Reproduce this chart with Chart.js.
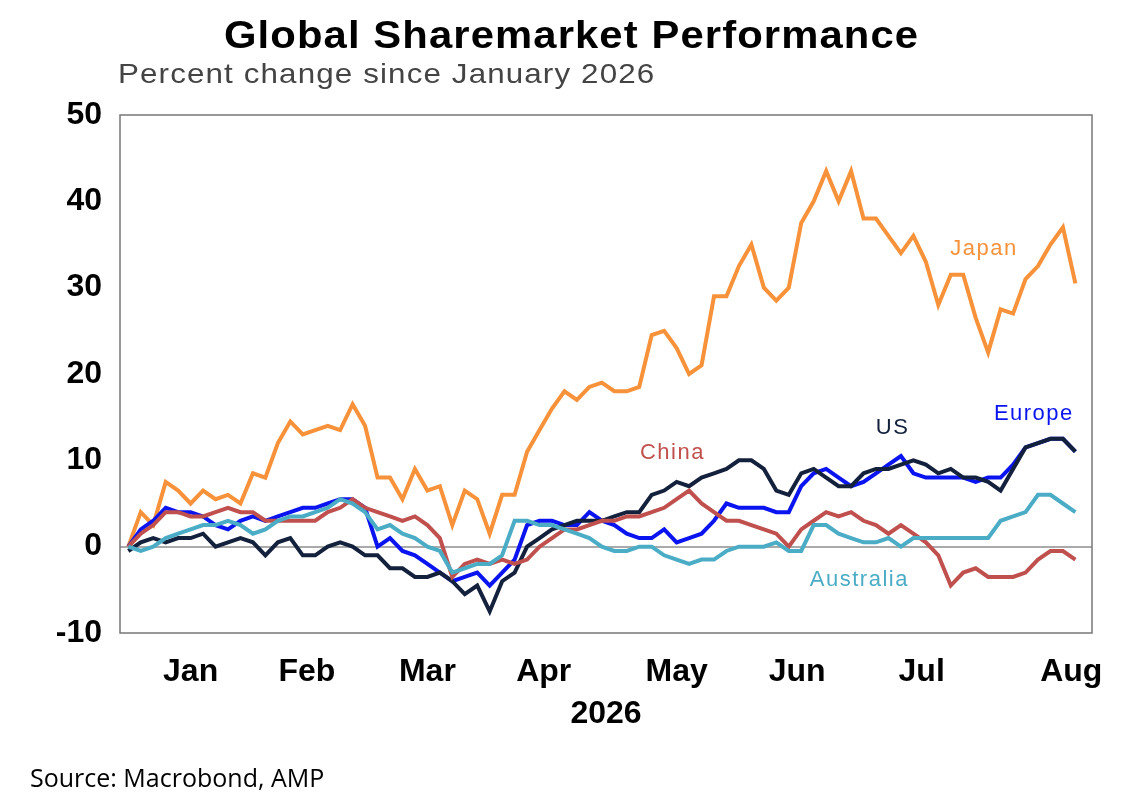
<!DOCTYPE html>
<html>
<head>
<meta charset="utf-8">
<script src="https://cdn.jsdelivr.net/npm/chart.js@4"></script>
<style>
  body { margin: 0; background: #fff; font-family: "Liberation Sans", Arial, sans-serif; }
  #wrap { position: relative; width: 1148px; height: 806px; }
  canvas { position: absolute; left: 0; top: 0; }
  .title { position: absolute; top: 14px; left: 224px; font-weight: bold; font-size: 38px; color: #000; letter-spacing: 1px; white-space: nowrap; transform: scaleX(1.1); transform-origin: left top; }
  .sub { position: absolute; top: 58px; left: 118px; font-size: 28px; color: #444; letter-spacing: 1px; white-space: nowrap; transform: scaleX(1.12); transform-origin: left top; }
  .src { position: absolute; top: 760px; left: 30px; font-size: 25px; color: #000; font-family: "Open Sans", sans-serif; }
</style>
</head>
<body>
<div id="wrap">
  <canvas id="c" width="1148" height="806"></canvas>
  <div class="title">Global Sharemarket Performance</div>
  <div class="sub">Percent change since January 2026</div>
  <div class="src">Source: Macrobond, AMP</div>
</div>
<script>
// one sample every 3 days, starting 1 Jan 2026 (day 0)
const step = 3;
const months = ['Jan', 'Feb', 'Mar', 'Apr', 'May', 'Jun', 'Jul', 'Aug'];
const monthTickDays = [15, 43, 72, 100, 132, 161, 191, 227];

const japan = [0, 4, 2.5, 7.5, 6.5, 5, 6.5, 5.5, 6, 5, 8.5, 8, 12, 14.5, 13, 13.5, 14, 13.5, 16.5, 14,
  8, 8, 5.5, 9, 6.5, 7, 2.5, 6.5, 5.5, 1.5, 6, 6, 11, 13.5, 16, 18, 17, 18.5, 19, 18,
  18, 18.5, 24.5, 25, 23, 20, 21, 29, 29, 32.5, 35, 30, 28.5, 30, 37.5, 40, 43.5, 40, 43.5, 38,
  38, 36, 34, 36, 33, 28, 31.5, 31.5, 26.5, 22.5, 27.5, 27, 31, 32.5, 35, 37, 30.5];
const us = [-0.5, 0.5, 1, 0.5, 1, 1, 1.5, 0, 0.5, 1, 0.5, -1, 0.5, 1, -1, -1, 0, 0.5, 0, -1,
  -1, -2.5, -2.5, -3.5, -3.5, -3, -4, -5.5, -4.5, -7.5, -4, -3, 0, 1, 2, 2.5, 3, 3, 3, 3.5,
  4, 4, 6, 6.5, 7.5, 7, 8, 8.5, 9, 10, 10, 9, 6.5, 6, 8.5, 9, 8, 7, 7, 8.5,
  9, 9, 9.5, 10, 9.5, 8.5, 9, 8, 8, 7.5, 6.5, 9, 11.5, 12, 12.5, 12.5, 11];
const europe = [0, 2, 3, 4.5, 4, 4, 3.5, 2.5, 2, 3, 3.5, 3, 3.5, 4, 4.5, 4.5, 5, 5.5, 5.5, 4.5,
  0, 1, -0.5, -1, -2, -3, -4, -3.5, -3, -4.5, -3, -1.5, 2.5, 3, 3, 2.5, 2.5, 4, 3, 2.5,
  1.5, 1, 1, 2, 0.5, 1, 1.5, 3, 5, 4.5, 4.5, 4.5, 4, 4, 7, 8.5, 9, 8, 7, 7.5,
  8.5, 9.5, 10.5, 8.5, 8, 8, 8, 8, 7.5, 8, 8, 9.5, 11.5, 12, 12.5, 12.5, 11];
const china = [0, 1.5, 2.5, 4, 4, 3.5, 3.5, 4, 4.5, 4, 4, 3, 3, 3, 3, 3, 4, 4.5, 5.5, 4.5,
  4, 3.5, 3, 3.5, 2.5, 1, -3.5, -2, -1.5, -2, -1.5, -2, -1.5, 0, 1, 2, 2, 2.5, 3, 3,
  3.5, 3.5, 4, 4.5, 5.5, 6.5, 5, 4, 3, 3, 2.5, 2, 1.5, 0, 2, 3, 4, 3.5, 4, 3,
  2.5, 1.5, 2.5, 1.5, 0.5, -1, -4.5, -3, -2.5, -3.5, -3.5, -3.5, -3, -1.5, -0.5, -0.5, -1.5];
const australia = [0, -0.5, 0, 1, 1.5, 2, 2.5, 2.5, 3, 2.5, 1.5, 2, 3, 3.5, 3.5, 4, 4.5, 5.5, 5, 4,
  2, 2.5, 1.5, 1, 0, -0.5, -3, -2.5, -2, -2, -1, 3, 3, 2.5, 2.5, 2, 1.5, 1, 0, -0.5,
  -0.5, 0, 0, -1, -1.5, -2, -1.5, -1.5, -0.5, 0, 0, 0, 0.5, -0.5, -0.5, 2.5, 2.5, 1.5, 1, 0.5,
  0.5, 1, 0, 1, 1, 1, 1, 1, 1, 1, 3, 3.5, 4, 6, 6, 5, 4];
const yTicks = [50, 40, 30, 20, 10, 0, -10];

// series labels placed on the chart: [text, day, value, colour]
const seriesLabels = [
  ['Japan', 206, 34.5, '#f7923a'],
  ['US', 184, 13.7, '#14213d'],
  ['Europe', 218, 15.4, '#0a14f0'],
  ['China', 131, 10.9, '#c0504d'],
  ['Australia', 176, -3.9, '#4bacc6']
];

const tickFont = { size: 32, weight: 'bold', family: '"Liberation Sans", Arial' };

function toPoints(arr) {
  return arr.map((v, i) => ({ x: i * step, y: v }));
}

function ds(label, arr, color) {
  return { label, data: toPoints(arr), borderColor: color, borderWidth: 4, pointRadius: 0, tension: 0, fill: false };
}

const labelPlugin = {
  id: 'seriesLabels',
  afterDatasetsDraw(chart) {
    const ctx = chart.ctx;
    ctx.save();
    ctx.font = '22px "Liberation Sans", Arial, sans-serif';
    ctx.letterSpacing = '1.5px';
    ctx.textAlign = 'center';
    ctx.textBaseline = 'middle';
    seriesLabels.forEach(([t, d, v, c]) => {
      ctx.fillStyle = c;
      ctx.fillText(t, chart.scales.x.getPixelForValue(d), chart.scales.y.getPixelForValue(v));
    });
    ctx.restore();
  }
};

const frame = {
  id: 'frame',
  afterDraw(chart) {
    const a = chart.chartArea, ctx = chart.ctx;
    ctx.save();
    ctx.strokeStyle = '#777';
    ctx.lineWidth = 1.5;
    ctx.strokeRect(a.left, a.top, a.right - a.left, a.bottom - a.top);
    ctx.restore();
  }
};

new Chart(document.getElementById('c'), {
  type: 'line',
  data: {
    datasets: [
      ds('Australia', australia, '#4bacc6'),
      ds('China', china, '#c0504d'),
      ds('US', us, '#14213d'),
      ds('Europe', europe, '#0a14f0'),
      ds('Japan', japan, '#f7923a')
    ]
  },
  options: {
    responsive: false,
    animation: false,
    layout: { padding: { top: 115, right: 56, bottom: 73, left: 0 } },
    plugins: { legend: { display: false }, tooltip: { enabled: false } },
    scales: {
      x: {
        type: 'linear', min: -2, max: 232,
        afterBuildTicks: s => { s.ticks = monthTickDays.map(v => ({ value: v })); },
        afterFit: s => { s.height = 100; },
        ticks: {
          autoSkip: false, maxRotation: 0, color: '#000', padding: 12,
          font: tickFont,
          callback: (v, i) => months[i]
        },
        grid: { display: false },
        border: { display: false },
        title: { display: true, text: '2026', color: '#000', padding: 0, font: tickFont }
      },
      y: {
        min: -10, max: 50,
        afterBuildTicks: s => { s.ticks = yTicks.map(v => ({ value: v })); },
        afterFit: s => { s.width = 120; },
        ticks: { color: '#000', padding: 18, font: tickFont },
        grid: {
          drawTicks: false,
          color: c => c.tick && c.tick.value === 0 ? '#aaa' : 'rgba(0,0,0,0)',
          lineWidth: 2
        },
        border: { display: false }
      }
    }
  },
  plugins: [labelPlugin, frame]
});
</script>
</body>
</html>
